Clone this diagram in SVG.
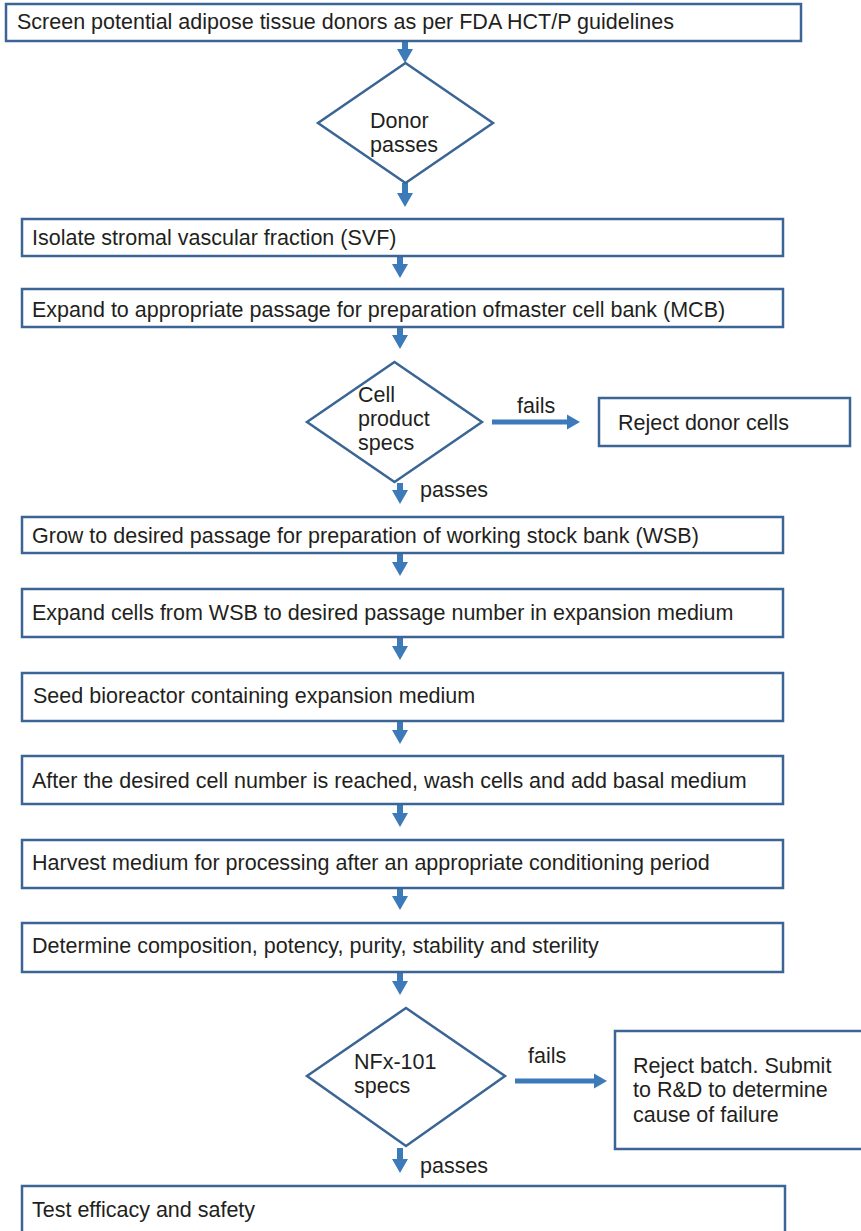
<svg xmlns="http://www.w3.org/2000/svg" width="861" height="1231" viewBox="0 0 861 1231">
<style>
.box{fill:#fff;stroke:#3a6594;stroke-width:2.5}
.dia{fill:#fff;stroke:#3a6594;stroke-width:2.5}
.t{font-family:"Liberation Sans",Arial,sans-serif;font-size:21.5px;fill:#231f20}
.arr{fill:#3d7aba}
</style>
<rect width="861" height="1231" fill="#fff"/>
<g id="connectors">
<polygon class="arr" points="402,41 408,41 408,49 413,49 405,63 397,49 402,49"/>
<polygon class="arr" points="402,183 408,183 408,193 413,193 405,207 397,193 402,193"/>
<polygon class="arr" points="397,256 403,256 403,264 408,264 400,278 392,264 397,264"/>
<polygon class="arr" points="397,327 403,327 403,335 408,335 400,349 392,335 397,335"/>
<polygon class="arr" points="397,483 403,483 403,490 408,490 400,504 392,490 397,490"/>
<polygon class="arr" points="397,553 403,553 403,562 408,562 400,576 392,562 397,562"/>
<polygon class="arr" points="397,637 403,637 403,646 408,646 400,660 392,646 397,646"/>
<polygon class="arr" points="397,721 403,721 403,730 408,730 400,744 392,730 397,730"/>
<polygon class="arr" points="397,804 403,804 403,813 408,813 400,827 392,813 397,813"/>
<polygon class="arr" points="397,888 403,888 403,896 408,896 400,910 392,896 397,896"/>
<polygon class="arr" points="397,972 403,972 403,981 408,981 400,995 392,981 397,981"/>
<polygon class="arr" points="397,1148 403,1148 403,1159 408,1159 400,1173 392,1159 397,1159"/>
<polygon class="arr" points="492,419.5 567,419.5 567,414.5 580,422 567,429.5 567,424.5 492,424.5"/>
<polygon class="arr" points="515,1078.5 594,1078.5 594,1073.5 607,1081 594,1088.5 594,1083.5 515,1083.5"/>
<text class="t" x="517" y="413">fails</text>
<text class="t" x="420" y="497">passes</text>
<text class="t" x="528" y="1063">fails</text>
<text class="t" x="420" y="1173">passes</text>
</g>
<g id="screen">
<rect class="box" x="6" y="4" width="795" height="37"/>
<text class="t" x="17" y="29">Screen potential adipose tissue donors as per FDA HCT/P guidelines</text>
</g>
<g id="donor-passes">
<polygon class="dia" points="405.5,63 493,123 405.5,183 318,123"/>
<text class="t" x="370" y="128">Donor</text>
<text class="t" x="370" y="152">passes</text>
</g>
<g id="isolate">
<rect class="box" x="22" y="219" width="761" height="37"/>
<text class="t" x="32" y="245">Isolate stromal vascular fraction (SVF)</text>
</g>
<g id="expand-mcb">
<rect class="box" x="22" y="289" width="761" height="38"/>
<text class="t" x="32" y="317">Expand to appropriate passage for preparation ofmaster cell bank (MCB)</text>
</g>
<g id="cell-specs">
<polygon class="dia" points="394.5,362 482,422 394.5,482 307,422"/>
<text class="t" x="358" y="402">Cell</text>
<text class="t" x="358" y="426">product</text>
<text class="t" x="358" y="450">specs</text>
</g>
<g id="reject-donor">
<rect class="box" x="599" y="398" width="251" height="48"/>
<text class="t" x="618" y="430">Reject donor cells</text>
</g>
<g id="grow-wsb">
<rect class="box" x="22" y="517" width="761" height="36"/>
<text class="t" x="32" y="543">Grow to desired passage for preparation of working stock bank (WSB)</text>
</g>
<g id="expand-cells">
<rect class="box" x="22" y="589" width="761" height="48"/>
<text class="t" x="32" y="620">Expand cells from WSB to desired passage number in expansion medium</text>
</g>
<g id="seed">
<rect class="box" x="22" y="673" width="761" height="48"/>
<text class="t" x="33" y="703">Seed bioreactor containing expansion medium</text>
</g>
<g id="after">
<rect class="box" x="22" y="756" width="761" height="48"/>
<text class="t" x="32" y="788">After the desired cell number is reached, wash cells and add basal medium</text>
</g>
<g id="harvest">
<rect class="box" x="22" y="840" width="761" height="48"/>
<text class="t" x="32" y="870">Harvest medium for processing after an appropriate conditioning period</text>
</g>
<g id="determine">
<rect class="box" x="22" y="923" width="761" height="49"/>
<text class="t" x="32" y="953">Determine composition, potency, purity, stability and sterility</text>
</g>
<g id="nfx-specs">
<polygon class="dia" points="406,1008 505,1076 406,1146 307,1076"/>
<text class="t" x="354" y="1069">NFx-101</text>
<text class="t" x="354" y="1093">specs</text>
</g>
<g id="reject-batch">
<rect class="box" x="615" y="1031" width="252" height="118"/>
<text class="t" x="633" y="1073">Reject batch. Submit</text>
<text class="t" x="633" y="1097">to R&amp;D to determine</text>
<text class="t" x="633" y="1122">cause of failure</text>
</g>
<g id="test">
<rect class="box" x="22" y="1186" width="763" height="60"/>
<text class="t" x="32" y="1217">Test efficacy and safety</text>
</g>
</svg>
